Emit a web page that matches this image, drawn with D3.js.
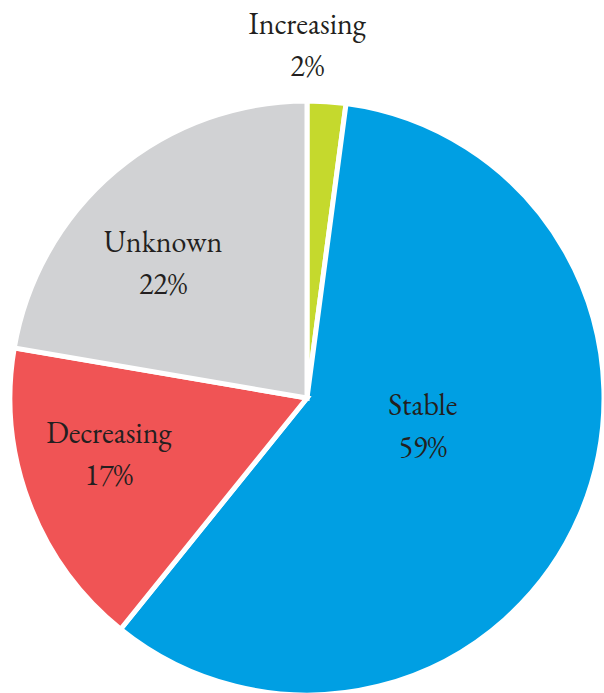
<!DOCTYPE html>
<html>
<head>
<meta charset="utf-8">
<script src="https://cdn.jsdelivr.net/npm/d3@7"></script>
<style>
  html, body { margin: 0; padding: 0; background: #fff; }
</style>
</head>
<body>
<div id="viz"></div>
<script>
const categories = ['Increasing', 'Stable', 'Decreasing', 'Unknown'];
// shares; labels show them rounded
const shares = [2.1, 58.7, 16.9, 22.3];
const colors = ['#c5d92d', '#009fe3', '#f05455', '#d1d2d4'];

// label nudges off the arc centroid (layout only)
const labelNudge = {
  Increasing: [-13, -164],
  Stable: [-68, -62],
  Decreasing: [-11, -26],
  Unknown: [-15, 7]
};

const width = 604;
const height = 693;
const cx = 307;
const cy = 398;
const radius = 297;

const dataset = categories.map((c, i) => ({ label: c, value: shares[i], color: colors[i] }));

const svg = d3.select('#viz')
  .append('svg')
  .attr('width', width)
  .attr('height', height);

const g = svg.append('g')
  .attr('transform', `translate(${cx},${cy})`);

const pie = d3.pie()
  .value(d => d.value)
  .sort(null);

const arc = d3.arc()
  .innerRadius(0)
  .outerRadius(radius);

const labelArc = d3.arc()
  .innerRadius(200)
  .outerRadius(200);

const arcs = pie(dataset);

g.selectAll('path')
  .data(arcs)
  .enter()
  .append('path')
  .attr('d', arc)
  .attr('fill', d => d.data.color)
  .attr('stroke', '#fff')
  .attr('stroke-width', 5)
  .attr('stroke-linejoin', 'miter');

const labels = g.selectAll('.label')
  .data(arcs)
  .enter()
  .append('text')
  .attr('class', 'label')
  .attr('text-anchor', 'middle')
  .style('font-family', '"EB Garamond", "Liberation Serif", serif')
  .style('font-size', '30px')
  .style('fill', '#231f20')
  .attr('transform', d => {
    const [x, y] = labelArc.centroid(d);
    const [dx, dy] = labelNudge[d.data.label];
    return `translate(${x + dx},${y + dy})`;
  });

labels.append('tspan')
  .attr('x', 0)
  .attr('y', 0)
  .text(d => d.data.label);

labels.append('tspan')
  .attr('x', 0)
  .attr('y', 42)
  .text(d => `${Math.round(d.data.value)}%`);
</script>
</body>
</html>
